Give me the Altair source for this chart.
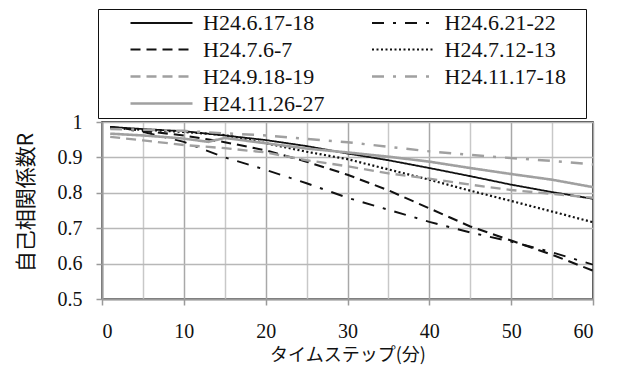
import altair as alt
import pandas as pd

series_names = ["H24.6.17-18", "H24.6.21-22", "H24.7.6-7", "H24.7.12-13",
                "H24.9.18-19", "H24.11.17-18", "H24.11.26-27"]

steps = [1, 5, 10, 15, 20, 25, 30, 35, 40, 45, 50, 55, 60]
steps_g = [1, 5, 8, 10, 13, 15, 20, 25, 30, 35, 40, 45, 50, 55, 60]

r_0617 = [0.986, 0.980, 0.974, 0.962, 0.949, 0.932, 0.911, 0.892, 0.870, 0.847, 0.823, 0.802, 0.783]
r_0621 = [0.986, 0.972, 0.944, 0.900, 0.865, 0.827, 0.786, 0.752, 0.718, 0.688, 0.662, 0.632, 0.597]
r_0706 = [0.986, 0.975, 0.962, 0.943, 0.920, 0.888, 0.851, 0.807, 0.756, 0.705, 0.665, 0.625, 0.580]
r_0712 = [0.983, 0.978, 0.972, 0.963, 0.940, 0.916, 0.895, 0.866, 0.837, 0.806, 0.777, 0.747, 0.717]
r_0918 = [0.958, 0.948, 0.935, 0.926, 0.914, 0.892, 0.875, 0.855, 0.840, 0.823, 0.808, 0.797, 0.786]
r_1117 = [0.980, 0.978, 0.975, 0.968, 0.962, 0.952, 0.943, 0.930, 0.917, 0.907, 0.898, 0.890, 0.880]
r_1126 = [0.967, 0.962, 0.957, 0.953, 0.944, 0.955, 0.940, 0.925, 0.914, 0.902, 0.888, 0.870, 0.853, 0.837, 0.816]

x_ticks = list(range(0, 61, 5))
y_ticks = [0.5, 0.6, 0.7, 0.8, 0.9, 1.0]

colors = ["#111111", "#111111", "#111111", "#111111", "#a0a0a0", "#a0a0a0", "#a0a0a0"]
dashes = [[1, 0], [12, 9, 3, 9], [10, 6], [2, 2.5], [10, 6], [12, 9, 3, 9], [1, 0]]
widths = [1.8, 2.6, 2.2, 2.0, 2.2, 2.4, 2.6]

rows = []
for name, ts, vals in [
    (series_names[0], steps, r_0617),
    (series_names[1], steps, r_0621),
    (series_names[2], steps, r_0706),
    (series_names[3], steps, r_0712),
    (series_names[4], steps, r_0918),
    (series_names[5], steps, r_1117),
    (series_names[6], steps_g, r_1126),
]:
    for t, v in zip(ts, vals):
        rows.append({"series": name, "t": t, "R": v})
df = pd.DataFrame(rows)

leg = dict(
    orient="none", legendX=-4, legendY=-113, columns=2, direction="horizontal", title=None,
    symbolType="M-3.1,0H3.1", symbolSize=400, symbolOffset=49,
    labelFont="Liberation Serif", labelFontSize=22, labelColor="#111111",
    labelOffset=30, labelLimit=400,
    labelExpr="datum.label + '\u00a0\u00a0\u00a0\u200b'",
    strokeColor="#111111", fillColor="white", padding=3,
    rowPadding=4, columnPadding=1.5,
)

chart = alt.Chart(df).mark_line(clip=True).encode(
    x=alt.X("t:Q", scale=alt.Scale(domain=[0, 60], nice=False),
            axis=alt.Axis(values=x_ticks,
                          labelExpr="datum.value % 10 == 0 ? datum.label : ''",
                          title="タイムステップ(分)",
                          tickOpacity=alt.condition("datum.value % 10 == 0", alt.value(1), alt.value(0)),
                          gridColor=alt.condition("datum.value % 10 == 0", alt.value("#a8a8a8"), alt.value("#c8c8c8")))),
    y=alt.Y("R:Q", scale=alt.Scale(domain=[0.5, 1.0], nice=False, zero=False),
            axis=alt.Axis(values=y_ticks, format="~g", title="自己相関係数R")),
    color=alt.Color("series:N", scale=alt.Scale(domain=series_names, range=colors), legend=alt.Legend(**leg)),
    strokeDash=alt.StrokeDash("series:N", scale=alt.Scale(domain=series_names, range=dashes), legend=alt.Legend(**leg)),
    strokeWidth=alt.StrokeWidth("series:N", scale=alt.Scale(domain=series_names, range=widths), legend=alt.Legend(**leg)),
    order=alt.Order("t:Q"),
).properties(
    width=491, height=177,
    autosize=alt.AutoSizeParams(type="none"),
    padding={"left": 94, "top": 114, "right": 14, "bottom": 68},
).configure_view(
    stroke="#111111", strokeWidth=1.5
).configure_axis(
    labelFont="Liberation Serif", labelFontSize=20, labelColor="#111111",
    titleFont="Noto Sans CJK JP", titleFontWeight="normal", titleColor="#111111",
    domainColor="#9a9a9a", domainWidth=2, tickColor="#9a9a9a", tickSize=6, tickWidth=1.5,
    gridColor="#b8b8b8", gridWidth=1.5, gridOpacity=1,
).configure_axisX(
    labelPadding=16, titleFontSize=18, titleY=56, titleBaseline="middle",
).configure_axisY(
    labelPadding=14, titleFontSize=21, titleX=-76, titleY=80,
    titleAlign="center", titleBaseline="middle", titleAngle=270,
)

chart.save("out.html", embed_options={"renderer": "svg", "actions": False})
